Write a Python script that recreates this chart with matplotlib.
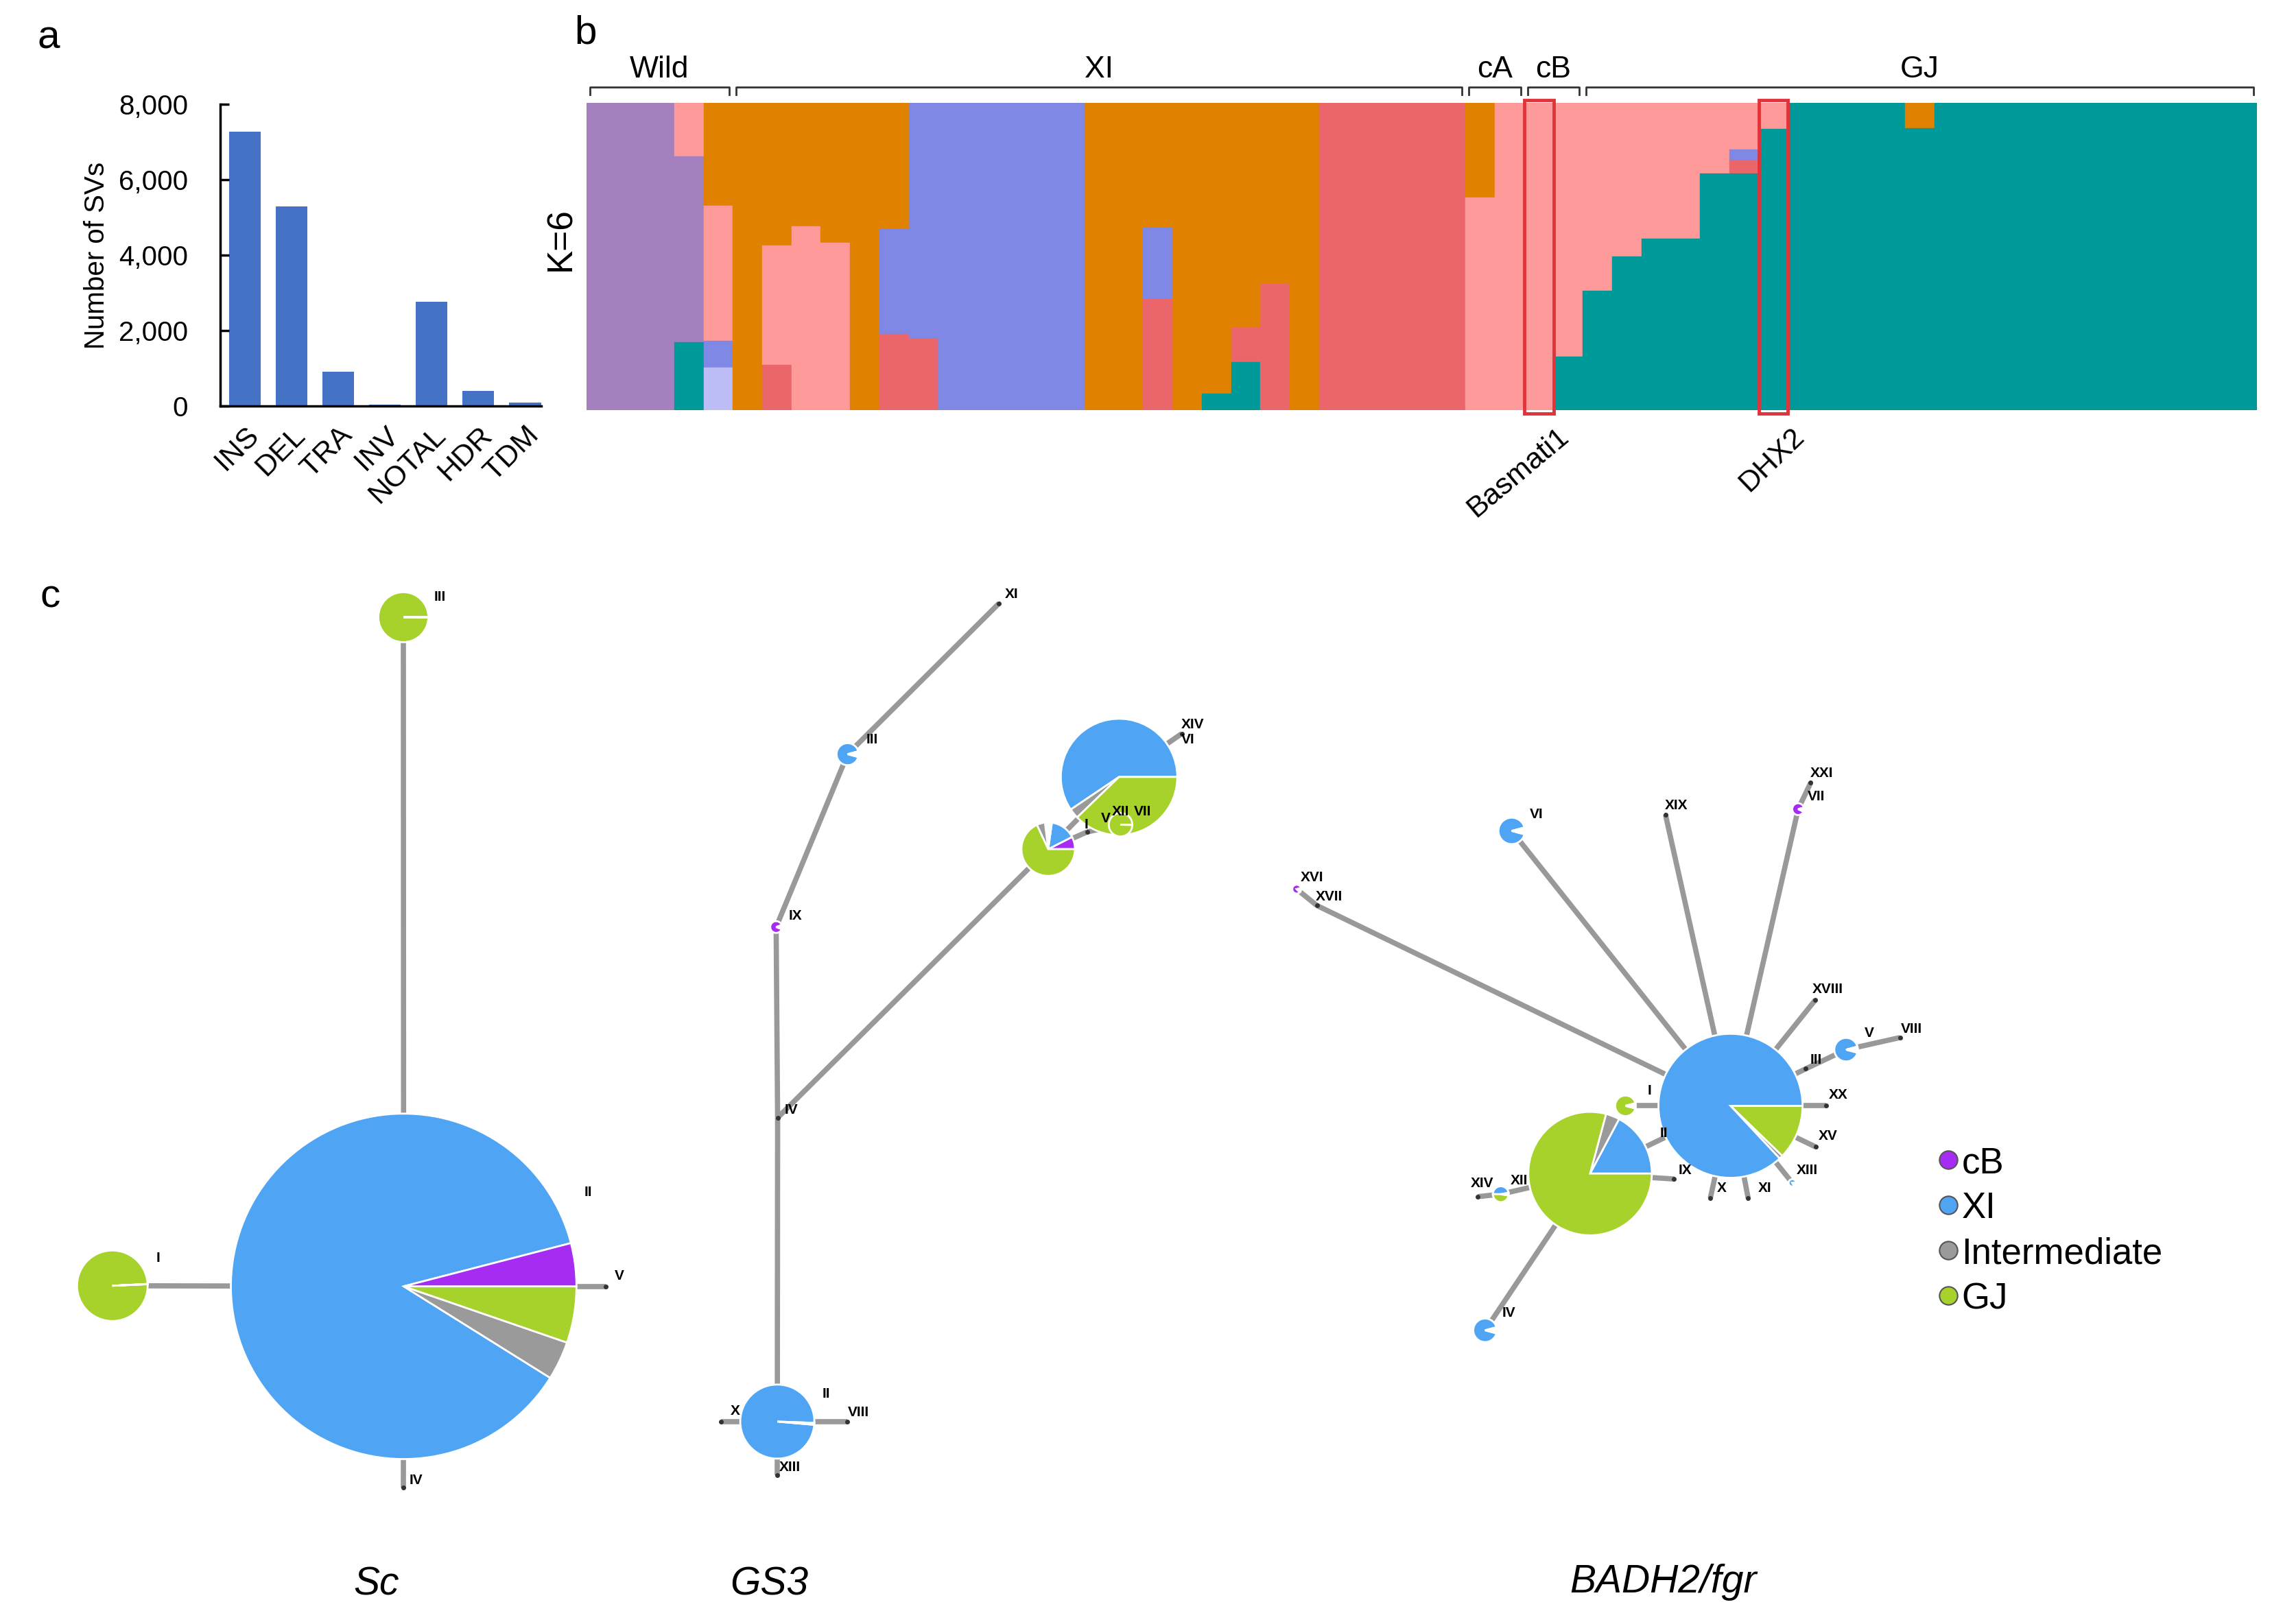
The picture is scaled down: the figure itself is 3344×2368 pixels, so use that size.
import matplotlib
matplotlib.use("Agg")
import matplotlib.pyplot as plt
import matplotlib.transforms as mtransforms
from matplotlib.patches import Rectangle
from matplotlib.ticker import FuncFormatter

plt.rcParams['font.family'] = ['Liberation Sans', 'DejaVu Sans']

# ---------------- panel a: SV counts
sv_types = ["INS", "DEL", "TRA", "INV", "NOTAL", "HDR", "TDM"]
sv_counts = [7280, 5300, 915, 45, 2765, 405, 100]

# ---------------- panel b: K=6 ancestry, blocks of samples (n, [(cluster, fraction) top -> bottom])
k_colors = {"wild": "#A481BE", "pink": "#FE9A9A", "orange": "#E08200", "blue": "#8088E5",
            "red": "#EB666A", "teal": "#009999", "lav": "#BDBDF7"}
blocks = [
    (3, [("wild", 1.0)]),
    (1, [("pink", .173), ("wild", .606), ("teal", .221)]),
    (1, [("orange", .335), ("pink", .438), ("blue", .087), ("lav", .14)]),
    (1, [("orange", 1.0)]),
    (1, [("orange", .463), ("pink", .389), ("red", .148)]),
    (1, [("orange", .40), ("pink", .60)]),
    (1, [("orange", .454), ("pink", .546)]),
    (1, [("orange", 1.0)]),
    (1, [("orange", .41), ("blue", .341), ("red", .249)]),
    (1, [("blue", .768), ("red", .232)]),
    (5, [("blue", 1.0)]),
    (2, [("orange", 1.0)]),
    (1, [("orange", .405), ("blue", .233), ("red", .362)]),
    (1, [("orange", 1.0)]),
    (1, [("orange", .946), ("teal", .054)]),
    (1, [("orange", .730), ("red", .113), ("teal", .157)]),
    (1, [("orange", .589), ("red", .411)]),
    (1, [("orange", 1.0)]),
    (5, [("red", 1.0)]),
    (1, [("orange", .308), ("pink", .692)]),
    (1, [("pink", 1.0)]),
    (1, [("pink", 1.0)]),
    (1, [("pink", .824), ("teal", .176)]),
    (1, [("pink", .611), ("teal", .389)]),
    (1, [("pink", .50), ("teal", .50)]),
    (2, [("pink", .441), ("teal", .559)]),
    (1, [("pink", .229), ("teal", .771)]),
    (1, [("pink", .151), ("blue", .036), ("red", .042), ("teal", .771)]),
    (1, [("pink", .084), ("teal", .916)]),
    (4, [("teal", 1.0)]),
    (1, [("orange", .081), ("teal", .919)]),
    (11, [("teal", 1.0)]),
]
groups = ["Wild", "XI", "cA", "cB", "GJ"]
group_sizes = [5, 25, 2, 2, 23]
marked = ["Basmati1", "DHX2"]
marked_idx = [32, 40]

# ---------------- panel c: haplotype networks
cat_colors = {"cB": "#A62CF4", "XI": "#4FA5F3", "Intermediate": "#9A9A9A", "GJ": "#A6D22B", "gap": "white"}
legend_cats = ["cB", "XI", "Intermediate", "GJ"]

# node: (x, y, radius, start angle, [(category, degrees)])
sc_nodes = {
    "II": (274.5, 875.0, 117.5, 14.5, [("XI", 313.5), ("Intermediate", 13), ("GJ", 19), ("cB", 14.5)]),
    "I": (76.4, 874.6, 24.0, 3, [("GJ", 359.5), ("GJ", 0.5)]),
    "III": (274.3, 419.8, 17.0, 0, [("GJ", 359.5), ("GJ", 0.5)]),
    "IV": (274.3, 1012.0, 0, 0, []),
    "V": (412.0, 875.0, 0, 0, []),
}
sc_edges = [("II", "I"), ("II", "III"), ("II", "IV"), ("II", "V")]
sc_labels = [("I", 107.7, 856), ("II", 400, 811), ("III", 299, 406), ("IV", 283, 1007), ("V", 421, 868)]

gs3_nodes = {
    "XI": (679.4, 410.4, 0, 0, []),
    "III": (576.4, 513.0, 7.5, 15, [("XI", 330), ("gap", 30)]),
    "IX": (527.8, 630.6, 4.0, 20, [("cB", 320), ("gap", 40)]),
    "IV": (528.8, 760.3, 0, 0, []),
    "II": (528.6, 967.0, 25.2, -2, [("XI", 357), ("gap", 3)]),
    "X": (490.5, 967.0, 0, 0, []),
    "VIII": (576.0, 967.0, 0, 0, []),
    "XIII": (528.6, 1003.6, 0, 0, []),
    "V": (712.8, 577.6, 18.2, 0, [("cB", 27), ("XI", 55), ("gap", 15), ("Intermediate", 18), ("GJ", 245)]),
    "VI": (761.0, 528.5, 39.6, 0, [("XI", 214), ("Intermediate", 10), ("GJ", 136)]),
    "XII": (762.0, 561.0, 8.0, 0, [("GJ", 359), ("GJ", 1)]),
    "I": (739.3, 565.9, 0, 0, []),
    "XIV": (803.7, 499.0, 0, 0, []),
}
gs3_edges = [("XI", "III"), ("III", "IX"), ("IX", "IV"), ("IV", "II"), ("II", "X"), ("II", "VIII"),
             ("II", "XIII"), ("IV", "V"), ("V", "VI"), ("V", "I"), ("I", "XII"), ("VI", "XIV")]
gs3_labels = [("XI", 688, 404), ("III", 593, 503), ("IX", 541, 623), ("IV", 538, 755), ("X", 500, 960),
              ("VIII", 584, 961), ("II", 562, 948), ("XIII", 537, 998), ("I", 738.5, 561), ("V", 752, 557),
              ("XII", 762, 552), ("VII", 777, 552), ("XIV", 811, 493), ("VI", 808, 503)]

badh_nodes = {
    "XX0": (1176.8, 752.2, 49.0, -47, [("Intermediate", 3), ("GJ", 44), ("XI", 313)]),
    "G": (1081.3, 798.3, 42.0, 0, [("XI", 62), ("Intermediate", 13), ("GJ", 285)]),
    "I": (1105.4, 752.2, 7.0, 15, [("GJ", 330), ("gap", 30)]),
    "IX": (1138.5, 802.0, 0, 0, []),
    "X": (1163.1, 815.0, 0, 0, []),
    "XI": (1188.8, 815.0, 0, 0, []),
    "XIII": (1218.8, 804.6, 2.5, 0, [("XI", 300), ("gap", 60)]),
    "XV": (1234.8, 780.2, 0, 0, []),
    "XX": (1242.0, 752.2, 0, 0, []),
    "III": (1228.0, 727.0, 0, 0, []),
    "V": (1255.4, 714.0, 8.0, 15, [("XI", 330), ("gap", 10), ("cB", 8), ("gap", 12)]),
    "VIII": (1292.0, 705.8, 0, 0, []),
    "XVIII": (1234.5, 680.2, 0, 0, []),
    "VII": (1222.8, 550.4, 4.0, 15, [("cB", 320), ("gap", 40)]),
    "XXI": (1231.3, 532.5, 0, 0, []),
    "XIX": (1132.6, 554.2, 0, 0, []),
    "VI": (1028.0, 565.2, 9.0, 15, [("XI", 330), ("gap", 30)]),
    "XVII": (895.6, 616.0, 0, 0, []),
    "XVI": (881.8, 604.8, 3.0, 15, [("cB", 300), ("gap", 60)]),
    "XII": (1020.6, 812.3, 5.4, 10, [("XI", 170), ("GJ", 170), ("gap", 20)]),
    "XIV": (1005.0, 814.0, 0, 0, []),
    "IV": (1009.9, 904.9, 8.0, 15, [("XI", 330), ("gap", 30)]),
}
badh_edges = [("XX0", "G"), ("XX0", "I"), ("G", "IX"), ("XX0", "X"), ("XX0", "XI"), ("XX0", "XIII"),
              ("XX0", "XV"), ("XX0", "XX"), ("XX0", "III"), ("III", "V"), ("V", "VIII"), ("XX0", "XVIII"),
              ("XX0", "VII"), ("VII", "XXI"), ("XX0", "XIX"), ("XX0", "VI"), ("XX0", "XVII"),
              ("XVII", "XVI"), ("G", "XII"), ("XII", "XIV"), ("G", "IV")]
badh_labels = [("I", 1121.5, 742), ("II", 1131.3, 771), ("IX", 1146, 796), ("X", 1171, 808), ("XI", 1200, 808),
               ("XIII", 1229, 796), ("XV", 1243, 773), ("XX", 1250, 745), ("III", 1235, 721), ("V", 1271, 703),
               ("VIII", 1300, 700), ("XVIII", 1243, 673), ("XXI", 1239, 526), ("VII", 1235, 542),
               ("XIX", 1140, 548), ("VI", 1045, 554), ("XVI", 892, 597), ("XVII", 904, 610),
               ("XIV", 1008, 805), ("XII", 1033, 803), ("IV", 1026, 893)]

titles = [("Sc", 256, 1078), ("GS3", 523, 1078), ("BADH2/fgr", 1131, 1076)]

# ---------------- figure
fig = plt.figure(figsize=(33.44, 23.68), dpi=100)
W = 1560.0
H = W * 2368 / 3344

# panel a
axa = fig.add_axes([0.0961, 0.7499, 0.1397, 0.1859])
axa.bar(range(len(sv_types)), sv_counts, width=0.68, color="#4472C4", zorder=1)
axa.set_xlim(-0.52, 6.34)
axa.set_ylim(0, 8000)
axa.set_yticks(range(0, 8001, 2000))
axa.yaxis.set_major_formatter(FuncFormatter(lambda v, p: f"{int(v):,}"))
axa.set_xticks(range(len(sv_types)))
axa.set_xticklabels(sv_types, rotation=45, ha="right", rotation_mode="anchor")
for s in ["top", "right"]:
    axa.spines[s].set_visible(False)
for s in ["left", "bottom"]:
    axa.spines[s].set_linewidth(2.5)
    axa.spines[s].set_zorder(3)
axa.tick_params(axis="y", direction="in", length=9, width=2.5, pad=34, labelsize=29)
axa.tick_params(axis="x", length=0, pad=16, labelsize=31)
axa.set_ylabel("Number of SVs", fontsize=29)
axa.yaxis.set_label_coords(-0.345, 0.5)

# panel b
axb = fig.add_axes([0.2556, 0.7473, 0.7282, 0.1892])
x0 = 0
for n, comp in blocks:
    for i in range(n):
        top = 1.0
        for key, f in comp:
            axb.bar(x0, f, bottom=top - f, width=1.0, align="edge", color=k_colors[key],
                    edgecolor=k_colors[key], linewidth=0.3)
            top -= f
        x0 += 1
axb.set_xlim(0, x0)
axb.set_ylim(0, 1)
axb.axis("off")
trans = mtransforms.blended_transform_factory(axb.transData, axb.transAxes)
start = 0
for g, n in zip(groups, group_sizes):
    xs, xe = start + 0.12, start + n - 0.12
    axb.plot([xs, xs, xe, xe], [1.027, 1.052, 1.052, 1.027], transform=trans, color="#333333",
             lw=2, clip_on=False)
    axb.text(start + n / 2, 1.11, g, transform=trans, ha="center", va="center", fontsize=32)
    start += n
for name, idx, rot in zip(marked, marked_idx, [40, 44]):
    axb.add_patch(Rectangle((idx, -0.01), 1, 1.02, fill=False, edgecolor="#E0343C", lw=3.5, clip_on=False))
    axb.text(idx + 1.1, -0.04, name, rotation=rot, ha="right", va="top", rotation_mode="anchor", fontsize=31)
axb.text(-0.015, 0.557, "K=6", transform=axb.transAxes, rotation=90, ha="center", va="center", fontsize=37)

# panel c
axc = fig.add_axes([0, 0, 1, (H - 380) / H])
EDGE = "#999999"


def draw_network(ax, nodes, edges, labels):
    for a, b in edges:
        xa, ya = nodes[a][:2]
        xb, yb = nodes[b][:2]
        ax.plot([xa, xb], [ya, yb], color=EDGE, lw=5.5, zorder=1, solid_capstyle="butt")
    order = sorted(nodes, key=lambda k: -nodes[k][2])
    for z, name in enumerate(order):
        x, y, r, st, comp = nodes[name]
        if r == 0:
            ax.plot(x, y, "o", ms=4, color="#333333", zorder=2)
            continue
        ax.pie([d for _, d in comp], colors=[cat_colors[c] for c, _ in comp], radius=r, center=(x, y),
               startangle=-st, counterclock=False,
               wedgeprops=dict(edgecolor="white", linewidth=2.0, zorder=3 + z))
    for txt, x, y in labels:
        ax.text(x, y, txt, fontsize=15, fontweight="bold", ha="center", va="center", zorder=50)


draw_network(axc, sc_nodes, sc_edges, sc_labels)
draw_network(axc, gs3_nodes, gs3_edges, gs3_labels)
draw_network(axc, badh_nodes, badh_edges, badh_labels)

for t, x, y in titles:
    axc.text(x, y, t, fontsize=41, style="italic", ha="center", va="center")

for i, cat in enumerate(legend_cats):
    yy = 789 + 30.8 * i
    axc.plot(1325, yy, "o", ms=19, mfc=cat_colors[cat], mec="#555555", mew=1.5, zorder=5)
    axc.text(1334, yy + 8.8, cat, fontsize=38, ha="left", va="baseline")

axc.set_xlim(0, W)
axc.set_ylim(H, 380)
axc.axis("off")

fig.text(0.0211, 0.9765, "a", fontsize=42, ha="center", va="center")
fig.text(0.2551, 0.9795, "b", fontsize=42, ha="center", va="center")
fig.text(0.0218, 0.6325, "c", fontsize=42, ha="center", va="center")

fig.savefig("out.png", dpi=100, facecolor="white")
